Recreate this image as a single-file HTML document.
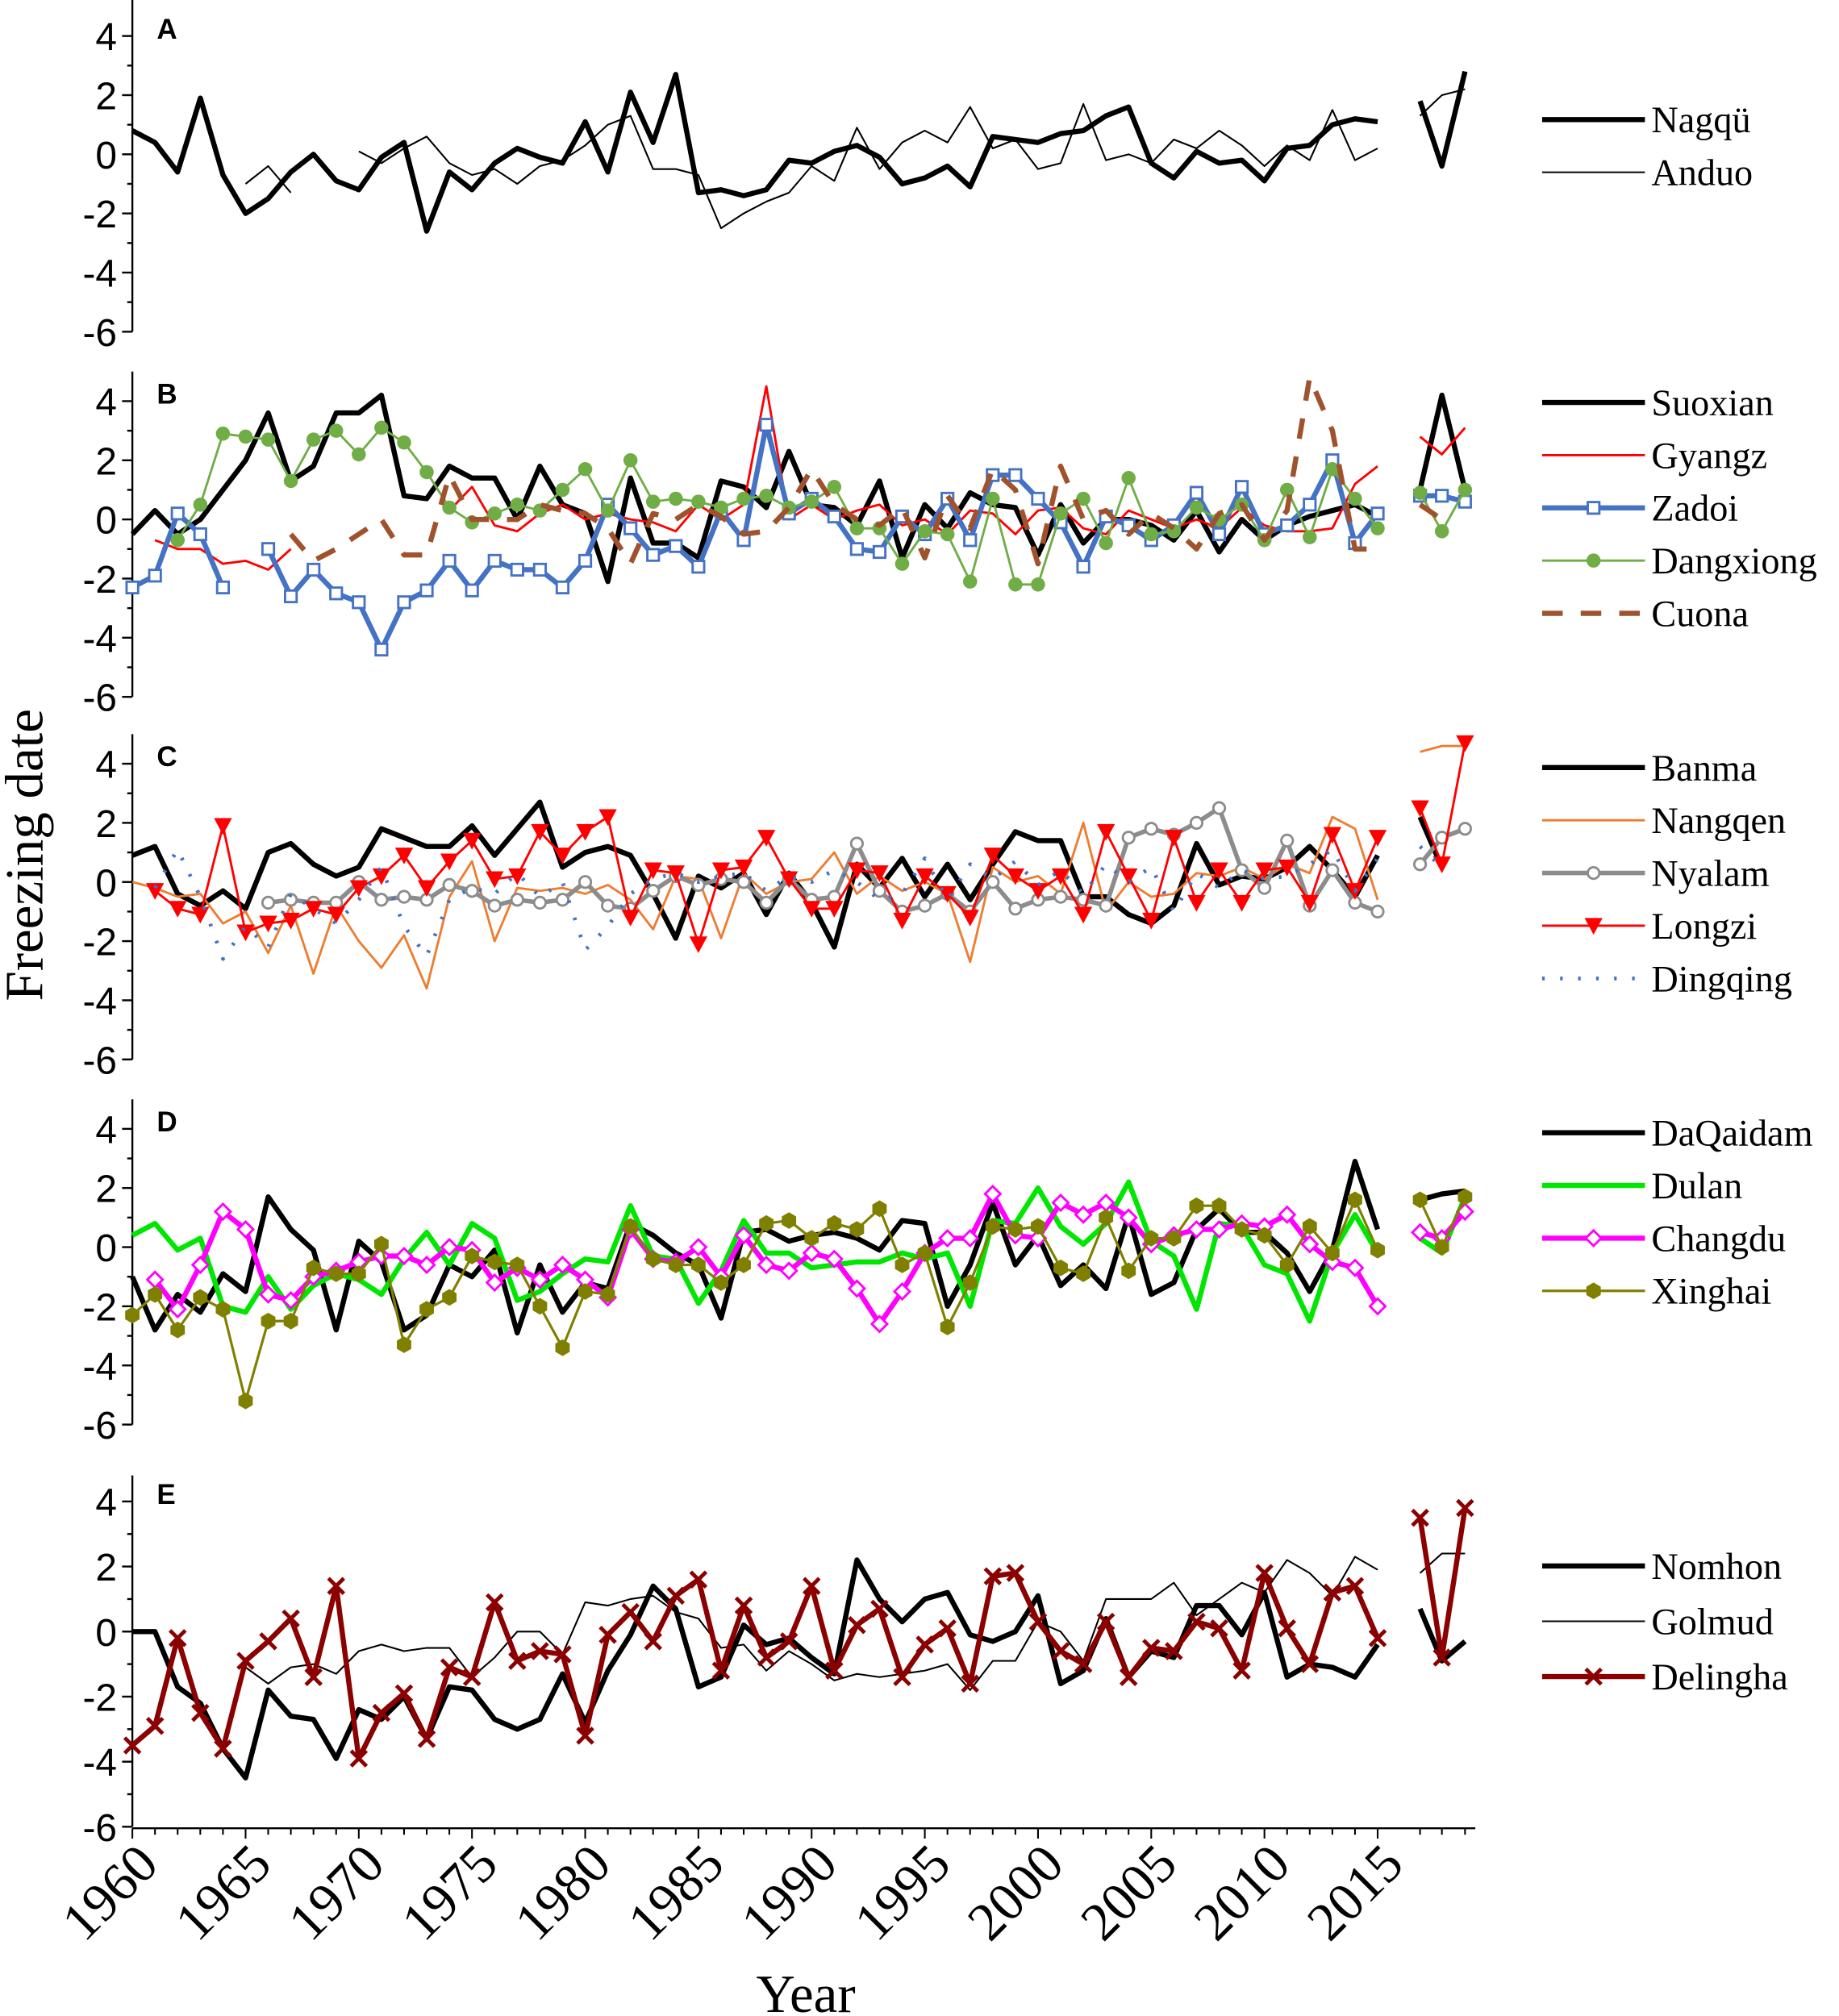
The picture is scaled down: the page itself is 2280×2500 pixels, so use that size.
<!DOCTYPE html>
<html><head><meta charset="utf-8"><style>
html,body{margin:0;padding:0;background:#fff;}
svg{display:block}
text{font-family:"Liberation Serif",serif;fill:#000}
text.sans{font-family:"Liberation Sans",sans-serif}
</style></head><body>
<svg id="s" width="2280" height="2500" viewBox="0 0 1431 1568" preserveAspectRatio="none" xmlns="http://www.w3.org/2000/svg"></svg>
<script>
const svg=document.getElementById('s');
let out='';
const X0=103,DX=(1072-103)/55;
const bx=[1105,1122,1140];
function xOf(i){return X0+i*DX;}
function parse(str){return str.trim().split(/\s+/).map(v=>v==='n'?null:parseFloat(v));}
const panels=[
{z:120,u:23,top:5.4,letter:'A',legY:93,series:[
{n:'Nagqü',c:'#000',w:4,d:'0.8 0.4 -0.6 1.9 -0.7 -2 -1.5 -0.6 0 -0.9 -1.2 -0.1 0.4 -2.6 -0.6 -1.2 -0.3 0.2 -0.1 -0.3 1.1 -0.6 2.1 0.4 2.7 -1.3 -1.2 -1.4 -1.2 -0.2 -0.3 0.1 0.3 -0.1 -1 -0.8 -0.4 -1.1 0.6 0.5 0.4 0.7 0.8 1.3 1.6 -0.3 -0.8 0.1 -0.3 -0.2 -0.9 0.2 0.3 1 1.2 1.1',b:'1.8 -0.4 2.8'},
{n:'Anduo',c:'#000',w:1.3,d:'n n n n n -1 -0.4 -1.3 n n 0.1 -0.3 0.2 0.6 -0.3 -0.7 -0.5 -1 -0.4 -0.2 0.3 1 1.3 -0.5 -0.5 -0.7 -2.5 -2 -1.6 -1.3 -0.4 -0.9 0.9 -0.5 0.4 0.8 0.4 1.6 0.2 0.5 -0.5 -0.3 1.7 -0.2 0 -0.3 0.5 0.2 0.8 0.3 -0.4 0.3 -0.2 1.5 -0.2 0.2',b:'1.3 2 2.2'}]},
{z:404,u:23,top:5,letter:'B',legY:313,series:[
{n:'Suoxian',c:'#000',w:4,d:'-0.5 0.3 -0.5 0 1 2 3.6 1.3 1.8 3.6 3.6 4.2 0.8 0.7 1.8 1.4 1.4 0 1.8 0.5 0.2 -2.1 1.4 -0.8 -0.8 -1.3 1.3 1.1 0.4 2.3 0.5 0.4 -0.2 1.3 -1.3 0.5 -0.3 0.9 0.5 0.4 -1.2 0.5 -0.8 0 0 -0.2 -0.7 0.3 -1.1 0 -0.7 -0.2 0.1 0.3 0.5 0.1',b:'1 4.2 1'},
{n:'Gyangz',c:'#f00',w:1.8,d:'n -0.7 -1 -1 -1.5 -1.4 -1.7 -1 n n n n n n 0.3 1.1 -0.2 -0.4 0.2 0.5 0 0.2 0 -0.1 -0.4 0.5 0 0.5 4.5 0 0.5 0 0.3 0.5 -0.2 0 -0.5 0.3 0.2 -0.5 0.3 0.4 -0.3 -0.5 0.3 0 -0.3 0 -0.3 0.4 -0.2 -0.4 -0.4 -0.3 1.2 1.8',b:'2.8 2.2 3.1'},
{n:'Zadoi',c:'#4472c4',w:4,m:'sq',d:'-2.3 -1.9 0.2 -0.5 -2.3 n -1 -2.6 -1.7 -2.5 -2.8 -4.4 -2.8 -2.4 -1.4 -2.4 -1.4 -1.7 -1.7 -2.3 -1.4 0.5 -0.3 -1.2 -0.9 -1.6 0.3 -0.7 3.2 0.2 0.7 0.1 -1 -1.1 0.1 -0.5 0.7 -0.7 1.5 1.5 0.7 -0.1 -1.6 0.1 -0.2 -0.7 -0.2 0.9 -0.5 1.1 -0.5 -0.2 0.5 2 -0.8 0.2',b:'0.8 0.8 0.6'},
{n:'Dangxiong',c:'#70ad47',w:1.8,m:'dot',d:'n n -0.7 0.5 2.9 2.8 2.7 1.3 2.7 3 2.2 3.1 2.6 1.6 0.4 -0.1 0.2 0.5 0.3 1 1.7 0.3 2 0.6 0.7 0.6 0.4 0.7 0.8 0.4 0.6 1.1 -0.3 -0.3 -1.5 -0.4 -0.5 -2.1 0.7 -2.2 -2.2 0.2 0.7 -0.8 1.4 -0.5 -0.4 0.4 0 0.5 -0.7 1 -0.6 1.7 0.7 -0.3',b:'0.9 -0.4 1'},
{n:'Cuona',c:'#a0522d',w:4,dash:'16 14',d:'n n n n n n n -0.5 -1.4 -1 -0.5 0 -1.2 -1.2 1.5 0 0 0 0.5 0.3 0.2 -0.3 -1.5 0.2 0 0.5 0.1 -0.5 -0.4 0.4 1.7 0.5 0 -0.2 0.4 -1.3 0.8 -0.3 1.7 1 -1.5 1.8 0 0.3 -0.5 0.2 -0.3 -1 0.2 0.5 -0.7 0.3 4.8 3 -1 -1',b:'0.5 0 n'}]},
{z:686,u:23,top:5,letter:'C',legY:597,series:[
{n:'Banma',c:'#000',w:4,d:'0.9 1.2 -0.4 -0.8 -0.3 -0.9 1 1.3 0.6 0.2 0.5 1.8 1.5 1.2 1.2 1.9 0.9 1.8 2.7 0.5 1 1.2 0.9 -0.4 -1.9 0.2 -0.2 0.3 -1.1 0.3 -0.7 -2.2 0.6 -0.2 0.8 -0.5 0.6 -0.6 0.6 1.7 1.4 1.4 -0.5 -0.5 -1.1 -1.4 -0.8 1.3 -0.1 0.2 0.1 0.5 1.2 0.4 -0.5 0.9',b:'2.2 0.5 n'},
{n:'Nangqen',c:'#ed7d31',w:1.8,d:'0 -0.2 -0.5 -0.4 -1.4 -1 -2.4 -0.8 -3.1 -0.8 -2 -2.9 -1.8 -3.6 -0.5 0.7 -2 -0.2 -0.3 -0.2 -0.4 -0.1 -0.6 -1.6 0.2 0.1 -1.9 0.3 -0.4 0 0.1 1 -0.4 0.2 -0.3 0 -0.4 -2.7 0.5 0 0.2 -0.4 2 -1 0 -0.5 -0.4 0.3 0.2 0.5 0.1 0.6 0.3 2.2 1.8 -0.6',b:'4.4 4.6 4.6'},
{n:'Nyalam',c:'#8c8c8c',w:3.5,m:'oc',d:'n n n n n n -0.7 -0.6 -0.7 -0.7 0 -0.6 -0.5 -0.6 -0.1 -0.3 -0.8 -0.6 -0.7 -0.6 0 -0.8 -0.9 -0.3 0.2 -0.1 0.1 0 -0.7 0.1 -0.6 -0.5 1.3 -0.3 -1 -0.8 -0.4 -1 0 -0.9 -0.6 -0.5 -0.6 -0.8 1.5 1.8 1.6 2 2.5 0.4 -0.2 1.4 -0.8 0.4 -0.7 -1',b:'0.6 1.5 1.8'},
{n:'Longzi',c:'#f00',w:1.8,m:'tri',d:'n -0.3 -0.9 -1.1 1.9 -1.7 -1.4 -1.3 -0.9 -1.1 -0.2 0.2 0.9 -0.2 0.7 1.4 0.1 0.2 1.7 0.9 1.7 2.2 -1.2 0.4 0.3 -2.1 0.4 0.5 1.5 0.1 -0.9 -0.9 0.4 0.3 -1.3 0.2 -0.4 -1.2 0.9 0.2 -0.3 0.2 -1.1 1.7 0.2 -1.3 1.5 -0.7 0.4 -0.7 0.4 0.5 -0.7 1.6 -0.3 1.5',b:'2.5 0.6 4.7'},
{n:'Dingqing',c:'#4472c4',w:3,dash:'2 12',d:'n -0.2 1.1 -0.5 -2.6 -1.5 -2.2 -0.4 -0.9 -1.4 -0.6 0.5 -1.5 -2.5 -0.6 -0.2 -0.4 0.3 -0.5 0 -2.3 -1.5 -0.4 0.1 0.3 0 0.2 0.3 -0.3 0.2 0 0.4 0 -0.6 -0.4 0.8 -0.6 0.6 0.1 0.7 -0.1 0.4 -0.4 0.6 0 0.5 -1 0.3 -0.2 0.4 0.1 0.2 0.6 1.1 -0.3 0.8',b:'1.2 0.5 n'}]},
{z:970,u:23,top:5,letter:'D',legY:881,series:[
{n:'DaQaidam',c:'#000',w:4,d:'-1 -2.8 -1.6 -2.2 -0.9 -1.5 1.7 0.6 -0.1 -2.8 0.2 -0.5 -2.8 -2.3 -0.6 -1 -0.1 -2.9 -0.6 -2.2 -1.2 -1.4 0.8 0.4 -0.2 -0.6 -2.4 0.5 0.6 0.2 0.4 0.5 0.3 -0.1 0.9 0.8 -2 -0.6 1.5 -0.6 0.4 -1.3 -0.6 -1.4 1.1 -1.6 -1.2 0.6 1.3 0.5 0.5 -0.2 -1.5 -0.1 2.9 0.6',b:'1.6 1.8 1.9'},
{n:'Dulan',c:'#00e600',w:4,d:'0.4 0.8 -0.1 0.3 -2 -2.2 -1 -2.1 -1.3 -0.9 -1.1 -1.6 -0.4 0.5 -0.6 0.8 0.3 -1.8 -1.5 -0.9 -0.4 -0.5 1.4 -0.3 -0.4 -1.9 -0.8 0.9 -0.2 -0.2 -0.7 -0.6 -0.5 -0.5 -0.2 -0.4 -0.2 -2 0.9 0.8 2 0.7 0.1 0.8 2.2 0.2 -0.3 -2.1 0.8 0.7 -0.6 -0.9 -2.5 -0.2 1.1 -0.2',b:'0.3 -0.2 1.7'},
{n:'Changdu',c:'#ff00ff',w:4,m:'dia',d:'n -1.1 -2.1 -0.6 1.2 0.6 -1.6 -1.8 -1 -0.8 -0.5 -0.3 -0.3 -0.6 0 -0.1 -1.2 -0.7 -1.1 -0.6 -1.1 -1.7 0.6 -0.4 -0.5 0 -1 0.4 -0.6 -0.8 -0.2 -0.4 -1.4 -2.6 -1.5 -0.2 0.3 0.3 1.8 0.4 0.3 1.5 1.1 1.5 1 0.1 0.4 0.6 0.6 0.8 0.7 1.1 0.1 -0.5 -0.7 -2',b:'0.5 0.3 1.2'},
{n:'Xinghai',c:'#808000',w:2,m:'hex',d:'-2.3 -1.6 -2.8 -1.7 -2.1 -5.2 -2.5 -2.5 -0.7 -0.9 -0.9 0.1 -3.3 -2.1 -1.7 -0.3 -0.5 -0.6 -2 -3.4 -1.5 -1.6 0.7 -0.4 -0.6 -0.6 -1.2 -0.6 0.8 0.9 0.3 0.8 0.6 1.3 -0.6 -0.2 -2.7 -1.2 0.7 0.6 0.7 -0.7 -0.9 1 -0.8 0.3 0.3 1.4 1.4 0.6 0.4 -0.6 0.7 -0.2 1.6 -0.1',b:'1.6 0 1.7'}]},
{z:1269,u:25.3,top:4.8,letter:'E',legY:1218,legGap:43,series:[
{n:'Nomhon',c:'#000',w:4,d:'0 0 -1.7 -2.2 -3.6 -4.5 -1.8 -2.6 -2.7 -3.9 -2.4 -2.7 -2 -3.3 -1.7 -1.8 -2.7 -3 -2.7 -1.3 -2.8 -1.2 -0.1 1.4 0.7 -1.7 -1.4 0.2 -0.4 -0.2 -0.8 -1.3 2.2 1 0.3 1 1.2 -0.1 -0.3 0 1.1 -1.6 -1.2 0.4 -1.4 -0.6 -0.8 0.8 0.8 -0.1 1.2 -1.4 -1 -1.1 -1.4 -0.4',b:'0.7 -0.9 -0.3'},
{n:'Golmud',c:'#000',w:1.3,d:'n n n n n -1.1 -1.6 -1.1 -1 -1.3 -0.6 -0.4 -0.6 -0.5 -0.5 -1.4 -0.8 0 0 -0.7 0.9 0.8 1 1.1 0.6 0.4 -0.5 -0.4 -1.2 -0.6 -1 -1.5 -1.3 -1.4 -1.3 -1.2 -1 -1.8 -0.9 -0.9 0.3 0 -0.9 1 1 1 1.5 0.5 1 1.5 1.2 2.2 1.8 1.1 2.3 1.9',b:'1.8 2.4 2.4'},
{n:'Delingha',c:'#8b0000',w:4,m:'x',d:'-3.5 -2.9 -0.2 -2.5 -3.6 -0.9 -0.3 0.4 -1.4 1.4 -3.9 -2.5 -1.9 -3.3 -1.1 -1.4 0.9 -0.9 -0.6 -0.7 -3.2 -0.1 0.6 -0.3 1.1 1.6 -1.2 0.8 -0.8 -0.3 1.4 -1.2 0.2 0.7 -1.4 -0.4 0.1 -1.6 1.7 1.8 0.3 -0.6 -1 0.3 -1.4 -0.5 -0.6 0.3 0.1 -1.2 1.8 0.1 -1 1.2 1.4 -0.2',b:'3.5 -0.8 3.8'}]}
];
function marker(m,x,y,c){
  if(m==='sq')return `<rect x="${x-4.5}" y="${y-4.5}" width="9" height="9" fill="#fff" stroke="${c}" stroke-width="1.8"/>`;
  if(m==='dot')return `<circle cx="${x}" cy="${y}" r="5.5" fill="${c}"/>`;
  if(m==='oc')return `<circle cx="${x}" cy="${y}" r="4.5" fill="#fff" stroke="${c}" stroke-width="1.8"/>`;
  if(m==='tri')return `<path d="M${x-7} ${y-6}L${x+7} ${y-6}L${x} ${y+7}Z" fill="${c}"/>`;
  if(m==='dia')return `<path d="M${x} ${y-6}L${x+6} ${y}L${x} ${y+6}L${x-6} ${y}Z" fill="#fff" stroke="${c}" stroke-width="1.8"/>`;
  if(m==='hex')return `<path d="M${x} ${y-6.5}L${x+5.6} ${y-3.2}L${x+5.6} ${y+3.2}L${x} ${y+6.5}L${x-5.6} ${y+3.2}L${x-5.6} ${y-3.2}Z" fill="${c}"/>`;
  if(m==='x')return `<path d="M${x-6} ${y-6}L${x+6} ${y+6}M${x+6} ${y-6}L${x-6} ${y+6}" stroke="${c}" stroke-width="3"/>`;
  return '';
}
function poly(pts,s){
  let segs=[],cur=[];
  pts.forEach(p=>{if(p[1]===null){if(cur.length)segs.push(cur);cur=[];}else cur.push(p);});
  if(cur.length)segs.push(cur);
  let o='';
  segs.forEach(sg=>{if(sg.length<2)return;
    o+=`<polyline points="${sg.map(p=>p[0].toFixed(1)+','+p[1].toFixed(1)).join(' ')}" fill="none" stroke="${s.c}" stroke-width="${s.w}" stroke-linejoin="round" ${s.dash?`stroke-dasharray="${s.dash}"`:''}/>`;});
  pts.forEach(p=>{if(p[1]!==null&&s.m)o+=marker(s.m,p[0],p[1],s.c);});
  return o;
}
panels.forEach(P=>{
  const Y=v=>P.z-v*P.u;
  out+=`<line x1="${X0}" y1="${Y(P.top)}" x2="${X0}" y2="${Y(-6)}" stroke="#000" stroke-width="1.5"/>`;
  for(let v=-6;v<=4;v++){
    const len=(v%2===0)?8:4;
    out+=`<line x1="${X0-len}" y1="${Y(v)}" x2="${X0}" y2="${Y(v)}" stroke="#000" stroke-width="1.5"/>`;
    if(v%2===0)out+=`<text class="sans" x="${X0-12}" y="${Y(v)+11}" font-size="30" text-anchor="end">${v}</text>`;
  }
  out+=`<text class="sans" x="122" y="${Y(4)+2}" font-size="22" font-weight="bold">${P.letter}</text>`;
  P.series.forEach((s,k)=>{
    const d=parse(s.d),b=parse(s.b);
    out+=poly(d.map((v,i)=>[xOf(i),v===null?null:Y(v)]),s);
    out+=poly(b.map((v,i)=>[bx[i],v===null?null:Y(v)]),s);
    const ly=P.legY+k*(P.legGap||41);
    out+=`<line x1="1200" y1="${ly}" x2="1280" y2="${ly}" stroke="${s.c}" stroke-width="${s.w}" ${s.dash?`stroke-dasharray="${s.dash}"`:''}/>`;
    if(s.m)out+=marker(s.m,1240,ly,s.c);
    out+=`<text x="1285" y="${ly+10}" font-size="29">${s.n}</text>`;
  });
});
const YB=1422;
out+=`<line x1="${X0}" y1="${YB}" x2="1148" y2="${YB}" stroke="#000" stroke-width="1.5"/>`;
for(let i=0;i<=59;i++){
  if(i===56)continue;
  let x=i<=55?xOf(i):bx[i-57];
  const major=(i<=55&&i%5===0);
  out+=`<line x1="${x}" y1="${YB}" x2="${x}" y2="${YB+(major?8:5)}" stroke="#000" stroke-width="1.3"/>`;
  if(major)out+=`<text transform="translate(${x+22},${YB+30}) rotate(-45)" font-size="42" text-anchor="end">${1960+i}</text>`;
}
out+=`<text x="627" y="1565" font-size="42" text-anchor="middle">Year</text>`;
out+=`<text transform="translate(33,665) rotate(-90)" font-size="42" text-anchor="middle">Freezing date</text>`;
svg.innerHTML=out;
</script>
</body></html>
